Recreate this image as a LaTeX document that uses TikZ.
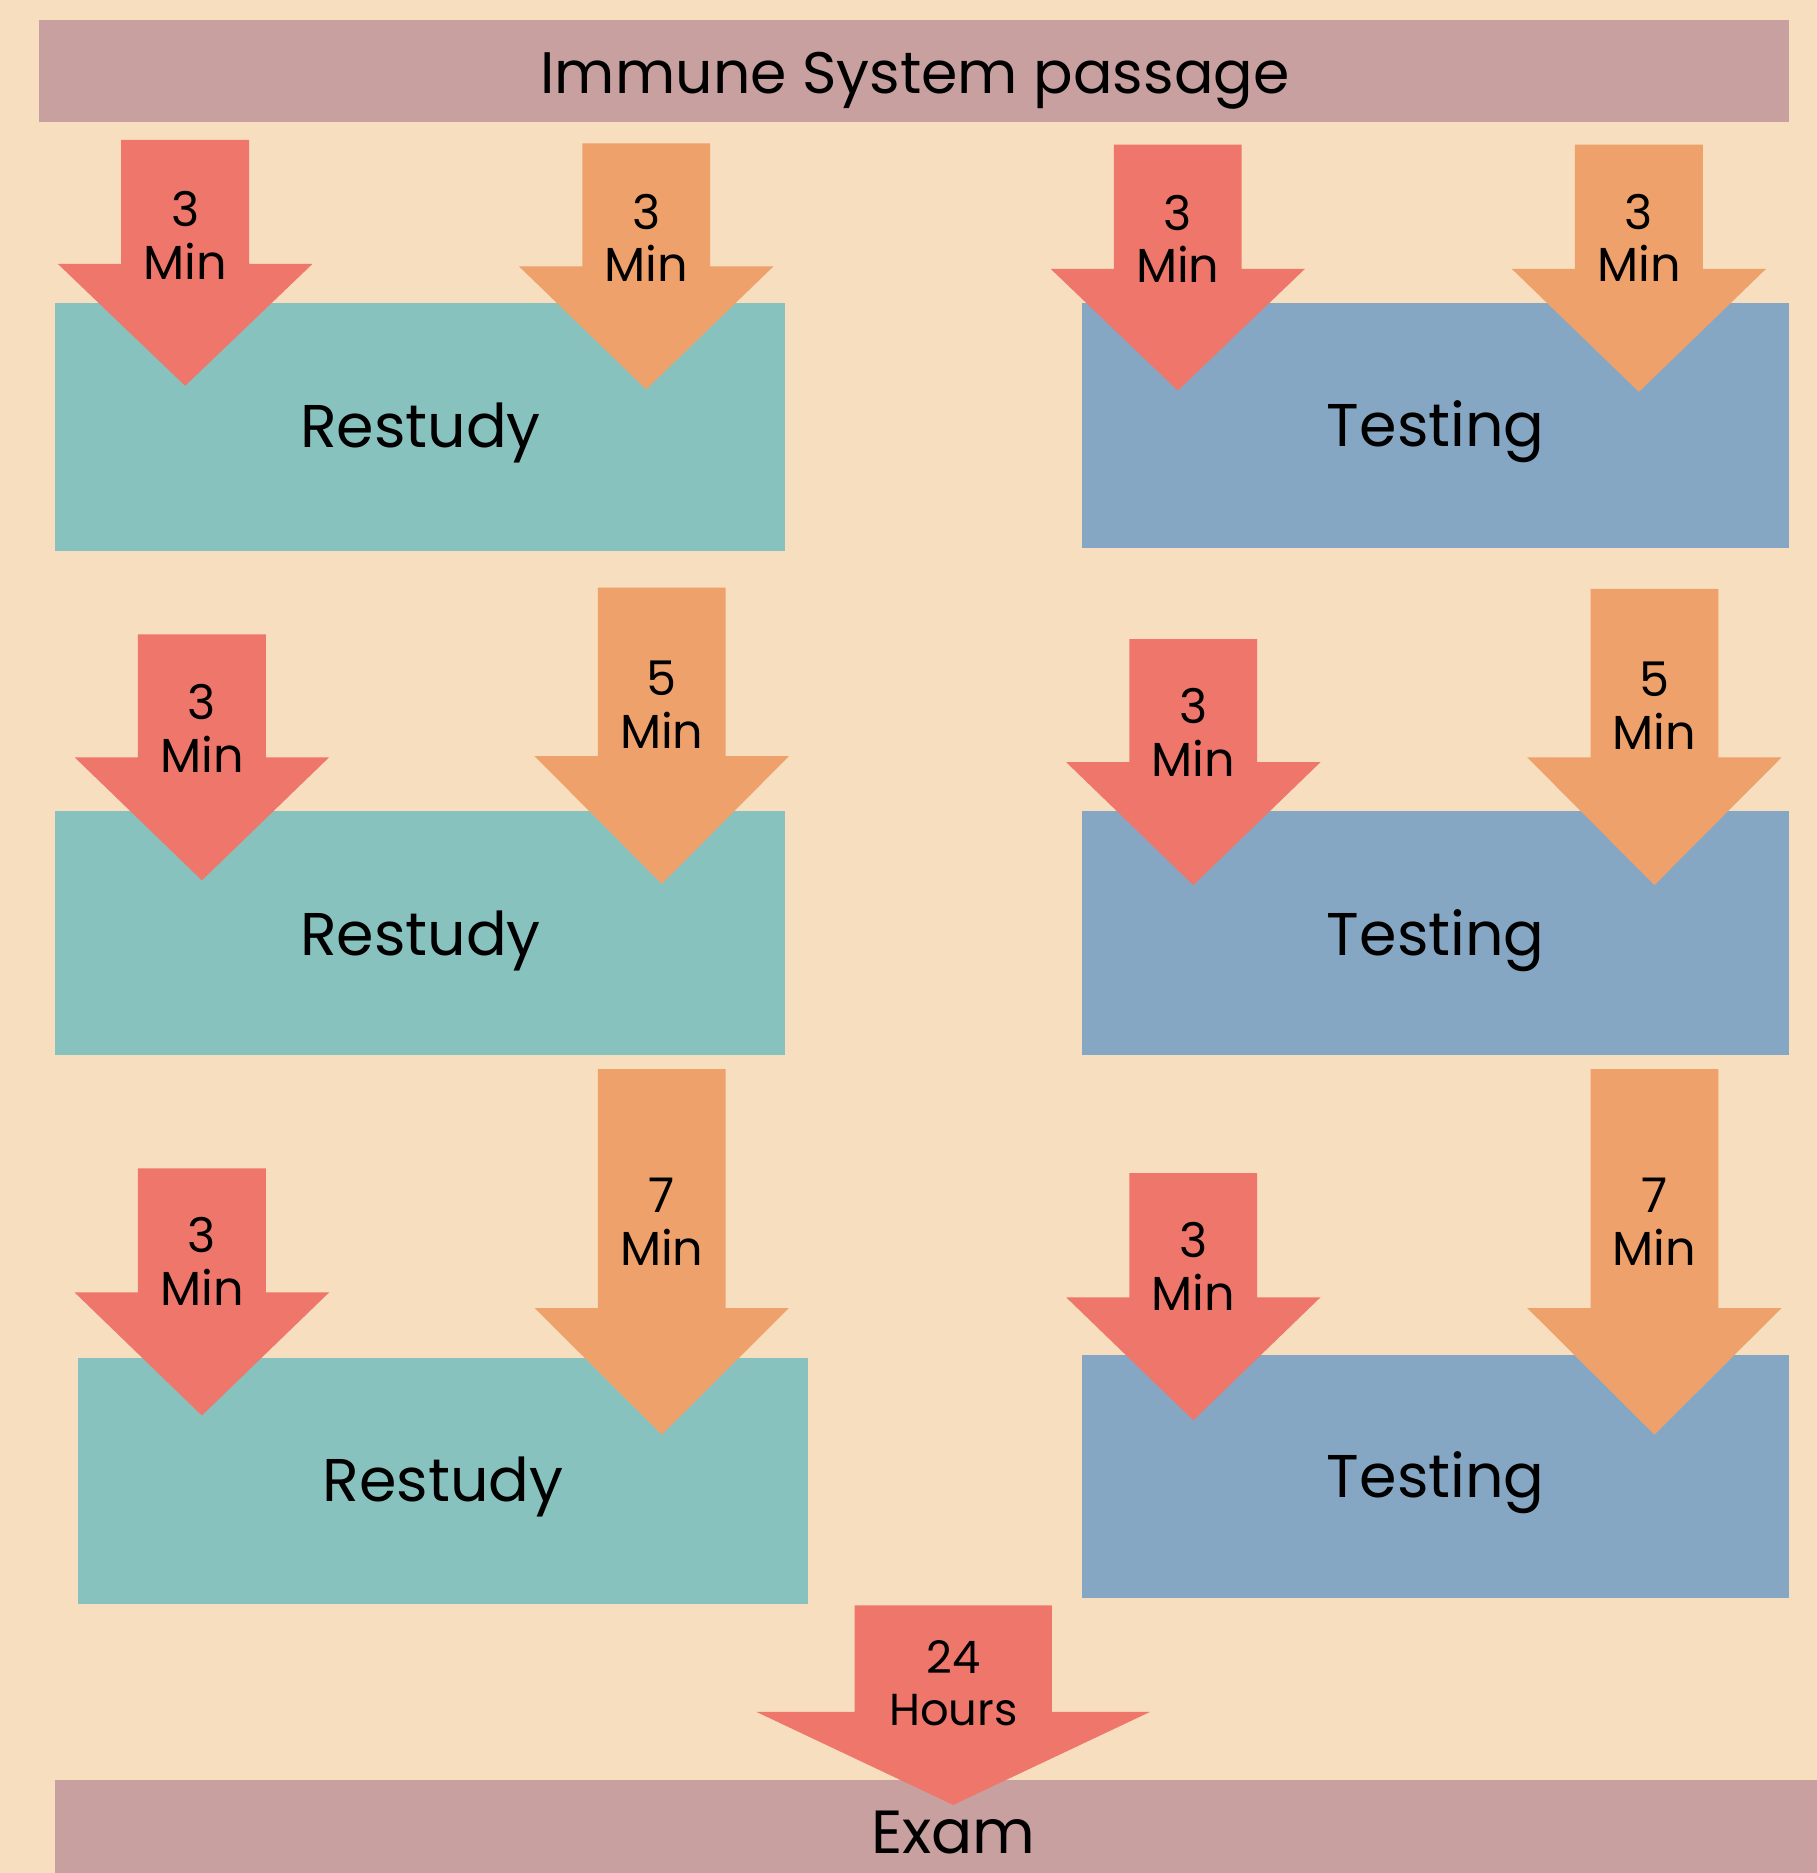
\documentclass[tikz,border=0pt]{standalone}
\usepackage{fontspec}
\setmainfont{Poppins}
\definecolor{bgc}{RGB}{247,222,191}
\definecolor{barc}{RGB}{200,160,159}
\definecolor{tealc}{RGB}{135,194,191}
\definecolor{bluec}{RGB}{134,167,196}
\definecolor{redc}{RGB}{239,118,107}
\definecolor{orangec}{RGB}{238,161,107}
\newcommand\dnarrow[7]{%
  \fill[#1] ({#2-#6},#3) -- ({#2+#6},#3) -- ({#2+#6},#4) -- ({#2+#7},#4) -- (#2,#5) -- ({#2-#7},#4) -- ({#2-#6},#4) -- cycle;}
\tikzset{
  bigtxt/.style={font=\fontsize{50.5}{60}\selectfont, anchor=base, inner sep=0pt},
  titletxt/.style={font=\fontsize{49}{60}\selectfont, anchor=base, inner sep=0pt},
  examtxt/.style={font=\fontsize{51}{60}\selectfont, anchor=base, inner sep=0pt},
  lbl/.style={font=\fontsize{40}{44}\selectfont, align=center, inner sep=0pt, anchor=center},
  lblh/.style={font=\fontsize{37.5}{44}\selectfont, align=center, inner sep=0pt, anchor=center},
}
\begin{document}
\begin{tikzpicture}[x=1pt,y=-1pt]
\fill[bgc] (0,0) rectangle (1521,1568);
\useasboundingbox (0,0) rectangle (1521,1568);
% bars
\fill[barc] (33,17) rectangle (1498,102);
\fill[barc] (46,1490) rectangle (1521,1568);
% boxes
\fill[tealc] (46,254) rectangle (657,461);
\fill[bluec] (906,254) rectangle (1498,459);
\fill[tealc] (46,679) rectangle (657,883);
\fill[bluec] (906,679) rectangle (1498,883);
\fill[tealc] (65,1137) rectangle (676,1343);
\fill[bluec] (906,1134) rectangle (1498,1338);
% arrows row 1
\dnarrow{redc}{155}{117}{221}{323}{53.5}{106.5}
\dnarrow{orangec}{541}{120}{223}{326}{53.5}{106.5}
\dnarrow{redc}{986}{121}{225}{327}{53.5}{106.5}
\dnarrow{orangec}{1372}{121}{225}{328}{53.5}{106.5}
% row 2
\dnarrow{redc}{169}{531}{634}{737}{53.5}{106.5}
\dnarrow{orangec}{554}{492}{633}{740}{53.5}{106.5}
\dnarrow{redc}{999}{535}{638}{741}{53.5}{106.5}
\dnarrow{orangec}{1385}{493}{634}{741}{53.5}{106.5}
% row 3
\dnarrow{redc}{169}{978}{1082}{1185}{53.5}{106.5}
\dnarrow{orangec}{554}{895}{1095}{1201}{53.5}{106.5}
\dnarrow{redc}{999}{982}{1086}{1189}{53.5}{106.5}
\dnarrow{orangec}{1385}{895}{1095}{1201}{53.5}{106.5}
% 24 hours
\dnarrow{redc}{798}{1344}{1433}{1511}{82.5}{165}
% texts
\node[titletxt] (title) at (766,78.5) {Immune System passage};
\node[examtxt] (exam) at (798,1552) {Exam};
\node[bigtxt] (r1) at (352,375) {Restudy};
\node[bigtxt] (t1) at (1202,374) {Testing};
\node[bigtxt] (r2) at (352,800) {Restudy};
\node[bigtxt] (t2) at (1202,800) {Testing};
\node[bigtxt] (r3) at (371,1257) {Restudy};
\node[bigtxt] (t3) at (1202,1254) {Testing};
\node[lbl] (a11) at (155,197) {3\\Min};
\node[lbl] (a12) at (541,199) {3\\Min};
\node[lbl] (a13) at (986,200) {3\\Min};
\node[lbl] (a14) at (1372,199) {3\\Min};
\node[lbl] (a21) at (169,610) {3\\Min};
\node[lbl] (a22) at (554,590) {5\\Min};
\node[lbl] (a23) at (999,613) {3\\Min};
\node[lbl] (a24) at (1385,591) {5\\Min};
\node[lbl] (a31) at (169,1056) {3\\Min};
\node[lbl] (a32) at (554,1023) {7\\Min};
\node[lbl] (a33) at (999,1060) {3\\Min};
\node[lbl] (a34) at (1385,1023) {7\\Min};
\node[lblh] (a4) at (798,1409) {24\\Hours};
\end{tikzpicture}
\end{document}
